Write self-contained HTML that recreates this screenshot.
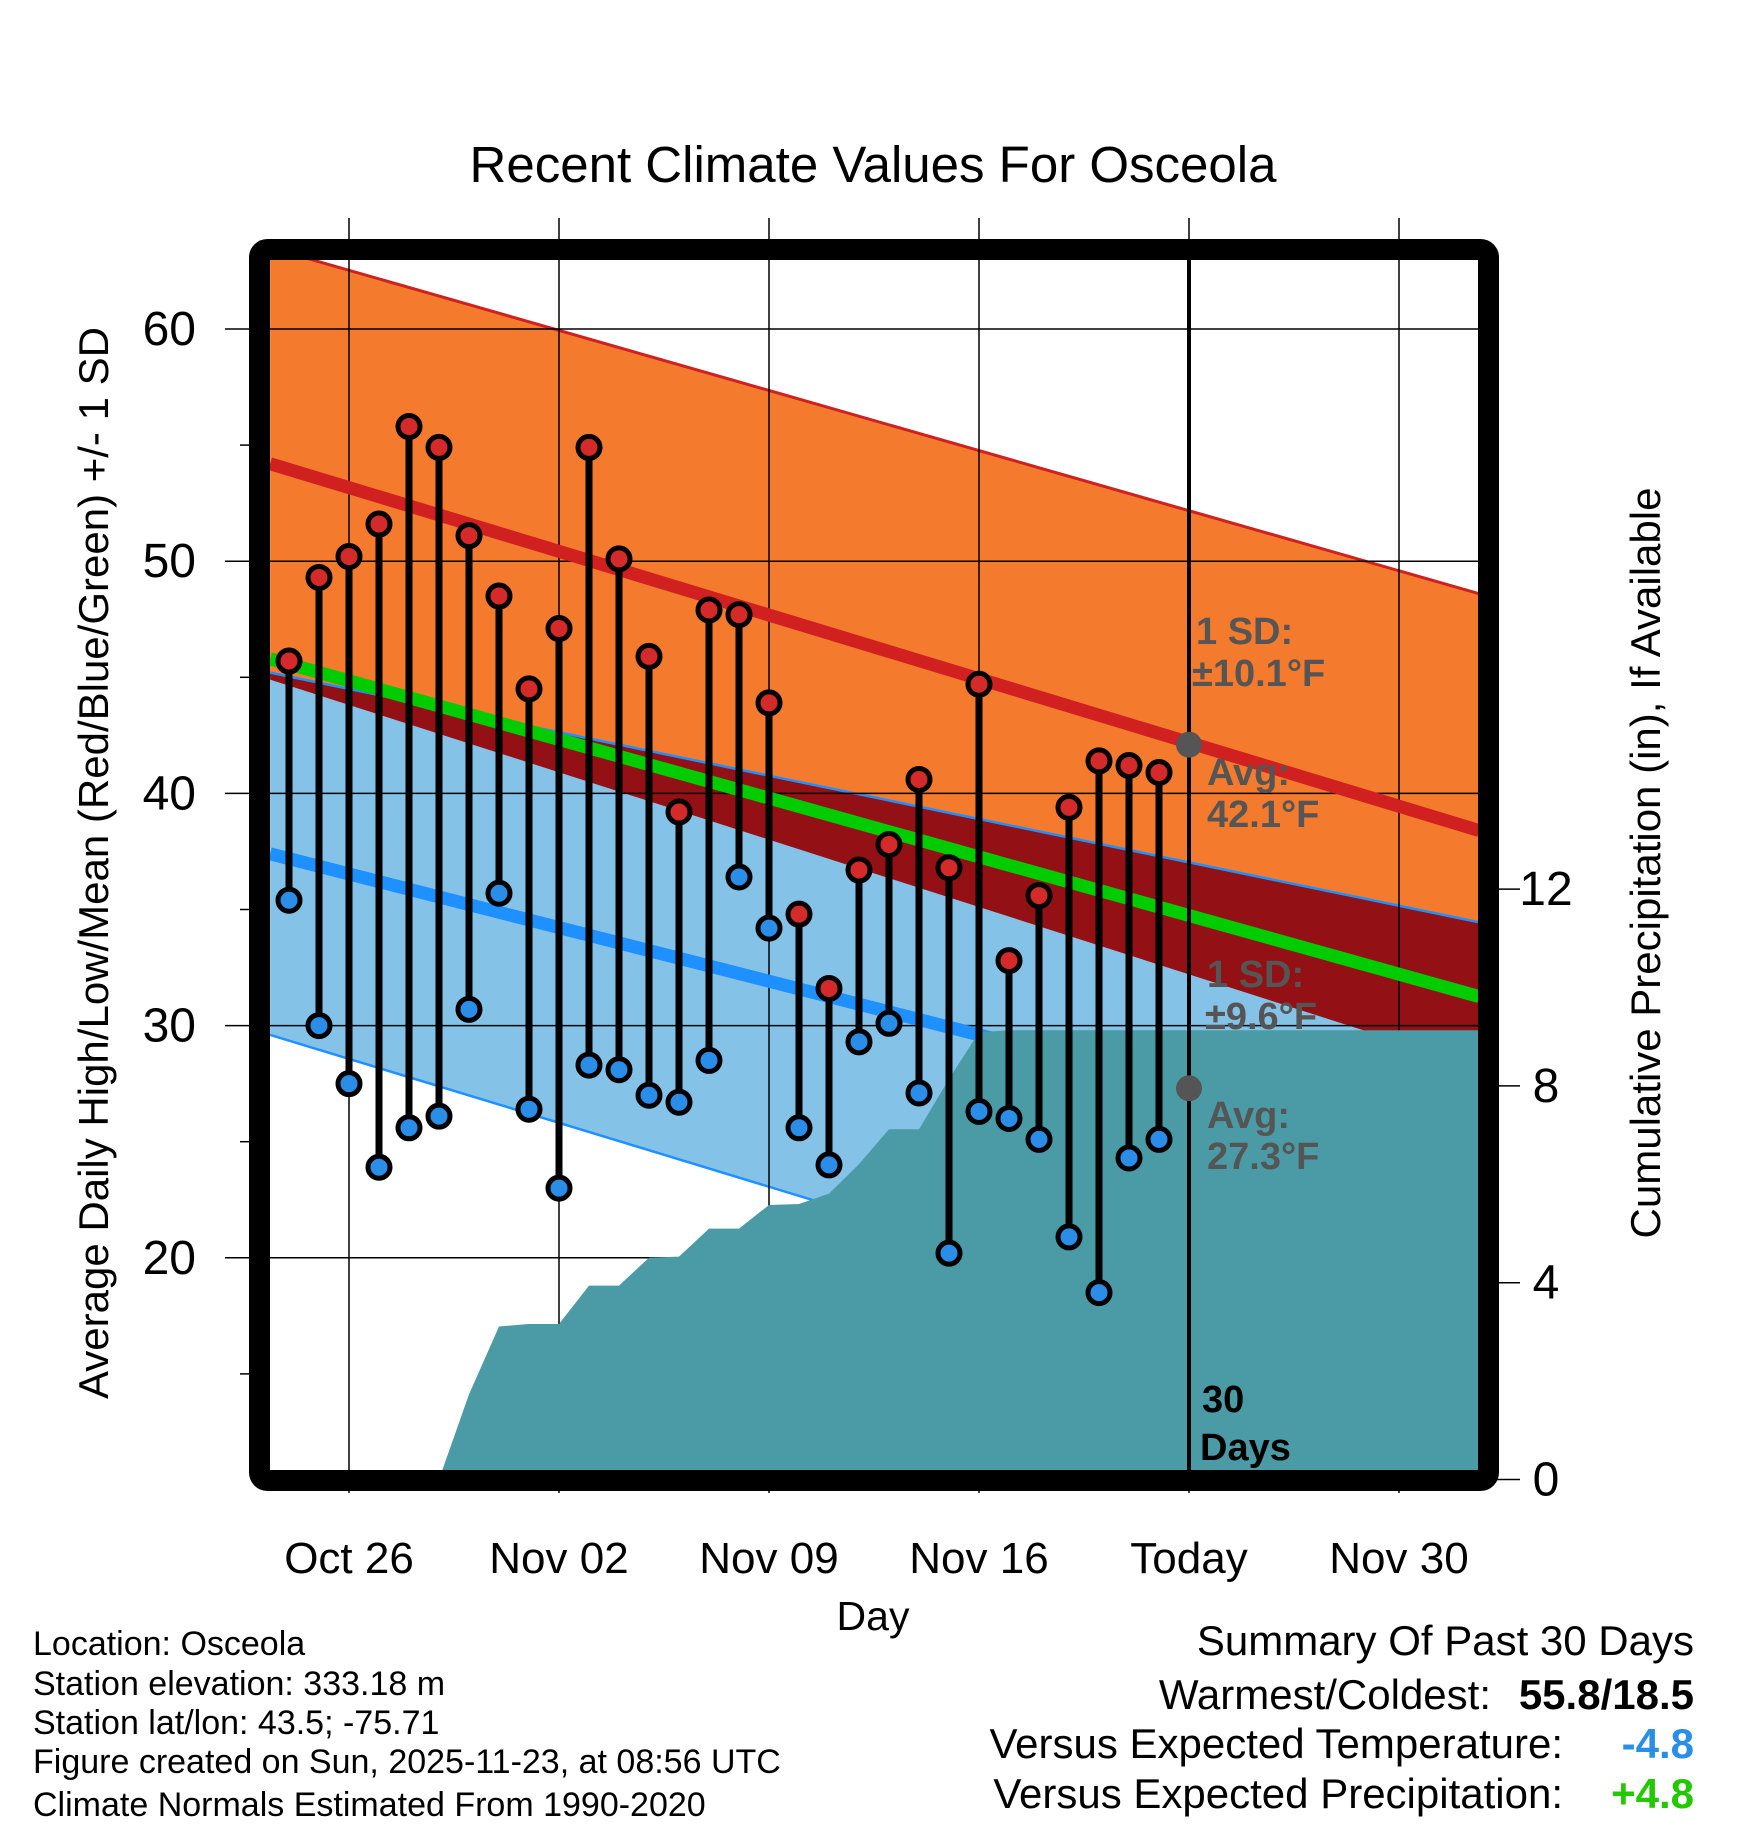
<!DOCTYPE html>
<html><head><meta charset="utf-8"><style>
html,body{margin:0;padding:0;background:#fff}
svg{display:block;font-family:"Liberation Sans",Arial,sans-serif}
</style></head><body>
<svg id="chart" width="1748" height="1828" viewBox="0 0 1748 1828" xmlns="http://www.w3.org/2000/svg">
<defs><clipPath id="plotclip"><rect x="270" y="260" width="1209" height="1210"/></clipPath></defs>
<g id="fills" clip-path="url(#plotclip)"></g>
<g id="overlay"></g>
<text x="873" y="182" font-size="51" text-anchor="middle">Recent Climate Values For Osceola</text>
<text transform="translate(108,863) rotate(-90)" font-size="42" text-anchor="middle">Average Daily High/Low/Mean (Red/Blue/Green) +/- 1 SD</text>
<text transform="translate(1660,863) rotate(-90)" font-size="42" text-anchor="middle">Cumulative Precipitation (in), If Available</text>
<text x="873" y="1630" font-size="41" text-anchor="middle">Day</text>
<g font-size="34">
<text x="33" y="1655">Location: Osceola</text>
<text x="33" y="1695">Station elevation: 333.18 m</text>
<text x="33" y="1734">Station lat/lon: 43.5; -75.71</text>
<text x="33" y="1773">Figure created on Sun, 2025-11-23, at 08:56 UTC</text>
<text x="33" y="1816">Climate Normals Estimated From 1990-2020</text>
</g>
<g font-size="42">
<text x="1694" y="1655" text-anchor="end">Summary Of Past 30 Days</text>
<text x="1491" y="1709" text-anchor="end">Warmest/Coldest:</text>
<text x="1694" y="1709" text-anchor="end" font-weight="bold">55.8/18.5</text>
<text x="1563" y="1758" text-anchor="end">Versus Expected Temperature:</text>
<text x="1694" y="1758" text-anchor="end" font-weight="bold" fill="#2a8ee8">-4.8</text>
<text x="1563" y="1808" text-anchor="end">Versus Expected Precipitation:</text>
<text x="1694" y="1808" text-anchor="end" font-weight="bold" fill="#22c800">+4.8</text>
</g>
</svg>
<script>
const days=["Oct 24","Oct 25","Oct 26","Oct 27","Oct 28","Oct 29","Oct 30","Oct 31","Nov 01","Nov 02","Nov 03","Nov 04","Nov 05","Nov 06","Nov 07","Nov 08","Nov 09","Nov 10","Nov 11","Nov 12","Nov 13","Nov 14","Nov 15","Nov 16","Nov 17","Nov 18","Nov 19","Nov 20","Nov 21","Nov 22"];
const highs=[45.7,49.3,50.2,51.6,55.8,54.9,51.1,48.5,44.5,47.1,54.9,50.1,45.9,39.2,47.9,47.7,43.9,34.8,31.6,36.7,37.8,40.6,36.8,44.7,32.8,35.6,39.4,41.4,41.2,40.9];
const lows=[35.4,30.0,27.5,23.9,25.6,26.1,30.7,35.7,26.4,23.0,28.3,28.1,27.0,26.7,28.5,36.4,34.2,25.6,24.0,29.3,30.1,27.1,20.2,26.3,26.0,25.1,20.9,18.5,24.3,25.1];
const precip=[0,0,0,0,0,0,1.73,3.11,3.16,3.16,3.94,3.94,4.51,4.53,5.10,5.10,5.58,5.60,5.81,6.41,7.12,7.12,8.14,9.09,9.13,9.13,9.13,9.13,9.13,9.13];
const normEdgeDays=[-0.63,39.67];
const highNormal=[54.2,38.4];
const highSD=[9.3,10.2];
const lowNormal=[37.4,24.1];
const lowSD=[7.8,10.35];
const todayIndex=30;
const todayHigh=42.1, todayLow=27.3;
const xTickLabels=["Oct 26","Nov 02","Nov 09","Nov 16","Today","Nov 30"];
const xTickIdx=[2,9,16,23,30,37];
const yTicks=[20,30,40,50,60];
const yMinor=[15,25,35,45,55];
const pTicks=[0,4,8,12];

const NS="http://www.w3.org/2000/svg";
const X=i=>289+i*30;
const Y=v=>329+(60-v)*23.22;
const P=p=>1479.5-p*49.2;
function mk(parent,tag,attrs){const e=document.createElementNS(NS,tag);for(const k in attrs)e.setAttribute(k,attrs[k]);parent.appendChild(e);return e;}
const fills=document.getElementById('fills');
const ov=document.getElementById('overlay');
const xl=X(normEdgeDays[0]), xr=X(normEdgeDays[1]);
const hT=[0,1].map(i=>highNormal[i]+highSD[i]), hB=[0,1].map(i=>highNormal[i]-highSD[i]);
const lT=[0,1].map(i=>lowNormal[i]+lowSD[i]), lB=[0,1].map(i=>lowNormal[i]-lowSD[i]);
const mean=[0,1].map(i=>(highNormal[i]+lowNormal[i])/2);
function band(top,bot,color,name){const e=mk(fills,'polygon',{points:`${xl},${Y(top[0])} ${xr},${Y(top[1])} ${xr},${Y(bot[1])} ${xl},${Y(bot[0])}`,fill:color});

}
function line(vals,color,w,name){const e=mk(fills,'line',{x1:xl,y1:Y(vals[0]),x2:xr,y2:Y(vals[1]),stroke:color,'stroke-width':w});

}
band(hT,hB,'#f47a2e','high-sd-band');
band(lT,lB,'#85c2e8','low-sd-band');
band(lT,hB,'#931015','overlap-band');
line(hT,'#d02020',3,'high-plus-sd-line');
line(lT,'#1e90ff',2.5,'low-plus-sd-line');
line(lB,'#1e90ff',2.5,'low-minus-sd-line');
xTickIdx.forEach((d,i)=>{const g=mk(ov,'line',{x1:X(d),y1:218,x2:X(d),y2:1493,stroke:'#000','stroke-width':1.5});


const t=mk(ov,'text',{x:X(d),y:1573,'font-size':44,'text-anchor':'middle'});t.textContent=xTickLabels[i];

});
yTicks.forEach(v=>{const g=mk(ov,'line',{x1:225,y1:Y(v),x2:1479,y2:Y(v),stroke:'#000','stroke-width':1.5});


const t=mk(ov,'text',{x:196,y:Y(v)+16,'font-size':48,'text-anchor':'end'});t.textContent=v;

});
yMinor.forEach(v=>{const g=mk(ov,'line',{x1:240,y1:Y(v),x2:250,y2:Y(v),stroke:'#000','stroke-width':1.5});

});
pTicks.forEach(p=>{const g=mk(ov,'line',{x1:1490,y1:P(p),x2:1520,y2:P(p),stroke:'#000','stroke-width':1.5});


const t=mk(ov,'text',{x:1546,y:P(p)+16,'font-size':48,'text-anchor':'middle'});t.textContent=p;

});
const lg=mk(ov,'g',{'clip-path':'url(#plotclip)'});
function line2(vals,color,w,name){const e=mk(lg,'line',{x1:xl,y1:Y(vals[0]),x2:xr,y2:Y(vals[1]),stroke:color,'stroke-width':w});

}
line2(mean,'#00cc00',13,'mean-normal-line');
line2(highNormal,'#d02020',13,'high-normal-line');
line2(lowNormal,'#1e90ff',13,'low-normal-line');
let pts=`${X(0)},${P(0)} `;precip.forEach((p,i)=>pts+=`${X(i)},${P(p)} `);
pts+=`${1479},${P(precip[precip.length-1])} 1479,1480 ${X(0)},1480`;
const pa=mk(lg,'polygon',{points:pts,fill:'#4a9ba5'});


function txt(x,y,s,fill,name){const t=mk(ov,'text',{x:x,y:y,'font-size':38,'font-weight':'bold',fill:fill});t.textContent=s;

}
txt(1196,644,'1 SD:','#555','high-sd-label');
txt(1192,686,'±10.1°F','#555','high-sd-value');
txt(1207,785,'Avg:','#555','high-avg-label');
txt(1207,827,'42.1°F','#555','high-avg-value');
txt(1207,987,'1 SD:','#555','low-sd-label');
txt(1205,1029,'±9.6°F','#555','low-sd-value');
txt(1207,1128,'Avg:','#555','low-avg-label');
txt(1207,1169,'27.3°F','#555','low-avg-value');
txt(1202,1412,'30','#000','days-count');
txt(1200,1460,'Days','#000','days-label');
const tl=mk(ov,'line',{x1:X(todayIndex),y1:260,x2:X(todayIndex),y2:1470,stroke:'#000','stroke-width':4});


[todayHigh,todayLow].forEach(v=>{const c=mk(ov,'circle',{cx:X(todayIndex),cy:Y(v),r:13,fill:'#555'});

});
days.forEach((d,i)=>{const s=mk(ov,'line',{x1:X(i),y1:Y(highs[i]),x2:X(i),y2:Y(lows[i]),stroke:'#000','stroke-width':7});


const h=mk(ov,'circle',{cx:X(i),cy:Y(highs[i]),r:11,fill:'#d42a2a',stroke:'#000','stroke-width':5});


const l=mk(ov,'circle',{cx:X(i),cy:Y(lows[i]),r:11,fill:'#2a8ee8',stroke:'#000','stroke-width':5});

});
const f=mk(ov,'rect',{x:259.5,y:249.5,width:1229,height:1231,rx:8,fill:'none',stroke:'#000','stroke-width':21});


</script>
</body></html>
